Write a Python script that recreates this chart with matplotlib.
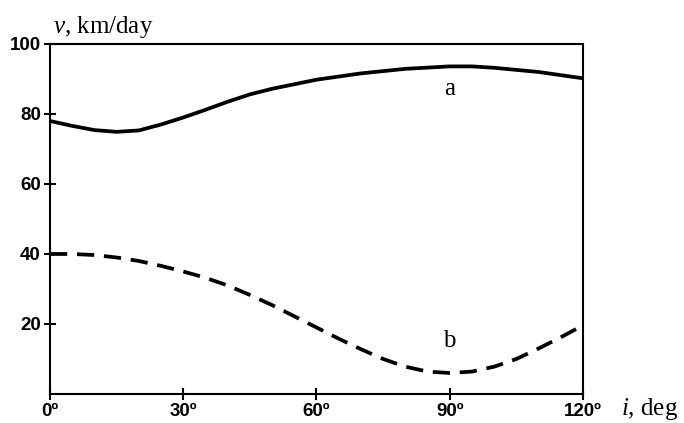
import numpy as np
import matplotlib.pyplot as plt

plt.rcParams['mathtext.fontset'] = 'custom'
plt.rcParams['mathtext.rm'] = 'Liberation Serif'
plt.rcParams['mathtext.it'] = 'Liberation Serif:italic'

# values
incl_a = [0, 5, 10, 15, 20, 25, 30, 35, 40, 45, 50, 60, 70, 80, 90, 95, 100, 110, 120]
vel_a = [78, 76.6, 75.4, 74.9, 75.3, 77.0, 79.0, 81.2, 83.5, 85.6, 87.2, 89.8, 91.6, 92.9, 93.6, 93.6, 93.2, 92.0, 90.2]

incl_b = [0, 5, 10, 15, 20, 25, 30, 35, 40, 45, 50, 55, 60, 65, 70, 75, 80, 85, 90, 95, 100, 105, 110, 115, 120]
vel_b = [40, 40, 39.7, 39.0, 38.0, 36.6, 35.0, 33.2, 31.0, 28.3, 25.4, 22.2, 19.0, 15.8, 12.8, 10.0, 7.8, 6.4, 6.0, 6.4, 7.8, 10.0, 13.0, 16.2, 19.6]

xticks = [0, 30, 60, 90, 120]
xlabels = ['0º', '30º', '60º', '90º', '120º']
yticks = [20, 40, 60, 80, 100]

fig = plt.figure(figsize=(6.84, 4.23), dpi=100)
ax = fig.add_axes([0.0731, 0.0686, 0.7792, 0.8274])

ax.plot(incl_a, vel_a, color='black', linewidth=2.7, solid_capstyle='butt', solid_joinstyle='round')
ax.plot(incl_b, vel_b, color='black', linewidth=2.7, dashes=(4.6, 2.6))

ax.text(90, 87, 'a', fontsize=18, family='Liberation Serif', ha='center', va='center')
ax.text(90, 15, 'b', fontsize=18, family='Liberation Serif', ha='center', va='center')

ax.set_xlim(0, 120)
ax.set_ylim(0, 100)
ax.set_xticks(xticks)
ax.set_xticklabels(xlabels)
ax.set_yticks(yticks)
for s in ax.spines.values():
    s.set_linewidth(1.5)
ax.tick_params(direction='inout', length=9, width=1.5, pad=2)
for lab in ax.get_xticklabels() + ax.get_yticklabels():
    lab.set_family('Liberation Sans')
    lab.set_fontweight('bold')
    lab.set_fontsize(13.5)

ax.text(0.005, 1.012, r'$v$, km/day', transform=ax.transAxes, fontsize=18,
        family='Liberation Serif', ha='left', va='bottom')
fig.text(0.908, 0.033, '$i$, deg', fontsize=18, family='Liberation Serif', ha='left', va='center')

fig.savefig('out.png', dpi=100)
